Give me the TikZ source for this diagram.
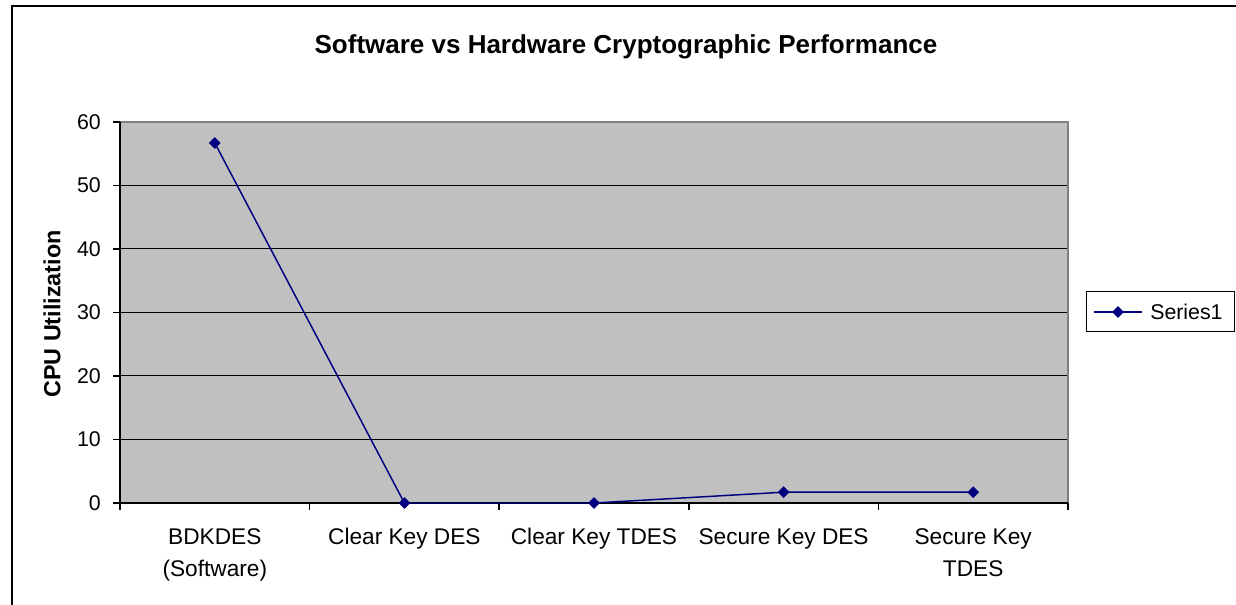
\documentclass[tikz,border=0pt]{standalone}
\usepackage{fontspec}
\setmainfont{Liberation Sans}
\usetikzlibrary{shapes.geometric}

\definecolor{plotgray}{HTML}{C0C0C0}
\definecolor{edgegray}{HTML}{808080}
\definecolor{seriesblue}{HTML}{000080}

\tikzset{
	gridline/.style={black, line width=0.75pt},
	axisline/.style={black, line width=1.1pt},
	serieslink/.style={seriesblue, line width=1.1pt},
	marker/.style={diamond, fill=seriesblue, inner sep=0pt, minimum size=9pt},
	ticklabel/.style={font=\fontsize{16}{19}\selectfont, anchor=east, inner sep=0pt},
	catlabel/.style={font=\fontsize{17}{24}\selectfont, align=center, anchor=north, inner sep=0pt},
}

\begin{document}
\begin{tikzpicture}[x=0.75pt, y=-0.75pt]
				\useasboundingbox (0,0) rectangle (1236,605);
				% outer frame
				\draw[black, line width=1.5pt] (12,610) -- (12,6.5) -- (1240,6.5);
				\node[font=\bfseries\fontsize{19.5}{23}\selectfont, anchor=base] (title) at (626,54) {Software vs Hardware Cryptographic Performance};
				% plot area
				\fill[plotgray] (120,122) rectangle (1068,503);
				\draw[gridline] (120,439.5) -- (1068,439.5);
				\draw[gridline] (120,376) -- (1068,376);
				\draw[gridline] (120,312.5) -- (1068,312.5);
				\draw[gridline] (120,249) -- (1068,249);
				\draw[gridline] (120,185.5) -- (1068,185.5);
				\draw[edgegray, line width=1.5pt] (120,122) -- (1068,122) -- (1068,503);
				\draw[axisline] (120,122) -- (120,503) -- (1068,503);
				% y ticks
				\draw[axisline] (113,503) -- (120,503);
				\draw[axisline] (113,439.5) -- (120,439.5);
				\draw[axisline] (113,376) -- (120,376);
				\draw[axisline] (113,312.5) -- (120,312.5);
				\draw[axisline] (113,249) -- (120,249);
				\draw[axisline] (113,185.5) -- (120,185.5);
				\draw[axisline] (113,122) -- (120,122);
				\node[ticklabel] (y0) at (101,503) {0};
				\node[ticklabel] (y10) at (101,439.5) {10};
				\node[ticklabel] (y20) at (101,376) {20};
				\node[ticklabel] (y30) at (101,312.5) {30};
				\node[ticklabel] (y40) at (101,249) {40};
				\node[ticklabel] (y50) at (101,185.5) {50};
				\node[ticklabel] (y60) at (101,122) {60};
				\node[font=\bfseries\fontsize{17.5}{21}\selectfont, rotate=90] (ylabel) at (52,314) {CPU Utilization};
				% x ticks
				\draw[axisline] (120,503) -- (120,510);
				\draw[axisline] (309.6,503) -- (309.6,510);
				\draw[axisline] (499.2,503) -- (499.2,510);
				\draw[axisline] (688.8,503) -- (688.8,510);
				\draw[axisline] (878.4,503) -- (878.4,510);
				\draw[axisline] (1068,503) -- (1068,510);
				\node[catlabel] (c1) at (214.8,528) {BDKDES\\(Software)};
				\node[catlabel] (c2) at (404.4,528) {Clear Key DES};
				\node[catlabel] (c3) at (594,528) {Clear Key TDES};
				\node[catlabel] (c4) at (783.6,528) {Secure Key DES};
				\node[catlabel] (c5) at (973.2,528) {Secure Key\\TDES};
				% series
				\coordinate (d1) at (214.8,143);
				\coordinate (d2) at (404.4,503);
				\coordinate (d3) at (594,503);
				\coordinate (d4) at (783.6,492.2);
				\coordinate (d5) at (973.2,492.2);
				\draw[serieslink] (d1) -- (d2) -- (d3) -- (d4) -- (d5);
				\node[marker] at (d1) {};
				\node[marker] at (d2) {};
				\node[marker] at (d3) {};
				\node[marker] at (d4) {};
				\node[marker] at (d5) {};
				% legend
				\draw[black, line width=0.75pt, fill=white] (1086,292) rectangle (1234,332);
				\coordinate (l1) at (1094,312);
				\coordinate (l2) at (1142,312);
				\draw[serieslink] (l1) -- (l2);
				\node[marker] (lm) at (1118,312) {};
				\node[font=\fontsize{16}{19}\selectfont, anchor=west, inner sep=0pt] (series) at (1150,312) {Series1};
			\end{tikzpicture}
\end{document}
